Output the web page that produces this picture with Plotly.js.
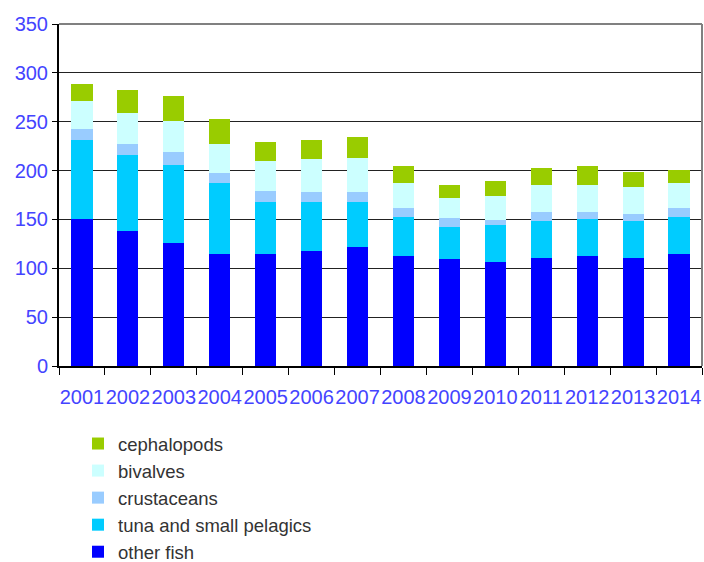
<!DOCTYPE html>
<html>
<head>
<meta charset="utf-8">
<script src="https://cdn.plot.ly/plotly-3.0.1.min.js"></script>
<style>html,body{margin:0;padding:0;background:#fff}#chart{width:704px;height:562px}</style>
</head>
<body>
<div id="chart"></div>
<script>
const years = ["2001","2002","2003","2004","2005","2006","2007","2008","2009","2010","2011","2012","2013","2014"];
const otherFish = [150, 138.6, 126.3, 115.1, 115.1, 118.1, 122.2, 113, 109, 106.9, 111, 113, 111, 115.1];
const tunaSmallPelagics = [81.5, 77.6, 79.7, 72.5, 53.1, 50.1, 46, 39.9, 33.7, 37.8, 37.8, 37.8, 37.8, 37.8];
const crustaceans = [11.3, 11.2, 13.3, 10.2, 11.2, 10.2, 10.2, 9.2, 9.2, 5.1, 9.2, 7.2, 7.1, 9.2];
const bivalves = [28.6, 31.7, 31.6, 29.6, 30.7, 33.7, 34.7, 25.5, 20.4, 24.5, 27.6, 27.6, 27.6, 25.5];
const cephalopods = [17.3, 23.5, 25.6, 25.6, 19.4, 19.4, 21.5, 17.4, 13.3, 15.4, 17.3, 19.4, 15.3, 13.3];
const yTicks = [0, 50, 100, 150, 200, 250, 300, 350];

const series = [
  {name: "other fish", y: otherFish, color: "#0000FF"},
  {name: "tuna and small pelagics", y: tunaSmallPelagics, color: "#00CCFF"},
  {name: "crustaceans", y: crustaceans, color: "#99CCFF"},
  {name: "bivalves", y: bivalves, color: "#CCFFFF"},
  {name: "cephalopods", y: cephalopods, color: "#99CC00"}
];
const font = "'Liberation Sans', Arial, sans-serif";
const traces = series.map(s => ({
  type: "bar", x: years, y: s.y, name: s.name,
  marker: {color: s.color, line: {width: 0}},
  hoverinfo: "x+y+name"
}));
const tf = {family: font, size: 20, color: "#4444FF"};
const layout = {
  width: 704, height: 562,
  margin: {l: 59, r: 2, t: 24, b: 196, autoexpand: false},
  barmode: "stack", bargap: 0.54,
  paper_bgcolor: "#fff", plot_bgcolor: "#fff",
  font: {family: font, size: 20, color: "#4444FF"},
  xaxis: {
    type: "category", tickson: "boundaries", ticks: "outside", ticklen: 7, tickcolor: "#000",
    showline: true, linecolor: "#000", linewidth: 2, showgrid: false, tickangle: 0,
    ticklabelstandoff: 12,
    tickfont: tf, automargin: false
  },
  yaxis: {
    range: [0, 350], tickvals: yTicks, ticks: "outside", ticklen: 5, tickcolor: "#000",
    showline: true, linecolor: "#000", linewidth: 2, mirror: false,
    showgrid: true, gridcolor: "#222", gridwidth: 1, zeroline: false,
    tickfont: tf, automargin: false
  },
  shapes: [
    {type: "line", xref: "paper", yref: "paper", x0: 0, x1: 1, y0: 1, y1: 1, line: {color: "#808080", width: 2}},
    {type: "line", xref: "paper", yref: "paper", x0: 1, x1: 1, y0: 0, y1: 1, line: {color: "#808080", width: 2}}
  ],
  legend: {
    x: (78 - 59) / 643, xanchor: "left", y: -(425 - 366) / 342, yanchor: "top",
    traceorder: "reversed", orientation: "v", itemwidth: 30,
    font: {family: font, size: 18.5, color: "#333"},
    bgcolor: "rgba(0,0,0,0)"
  },
  showlegend: true
};
Plotly.newPlot("chart", traces, layout, {displayModeBar: false, staticPlot: true});
</script>
</body>
</html>
